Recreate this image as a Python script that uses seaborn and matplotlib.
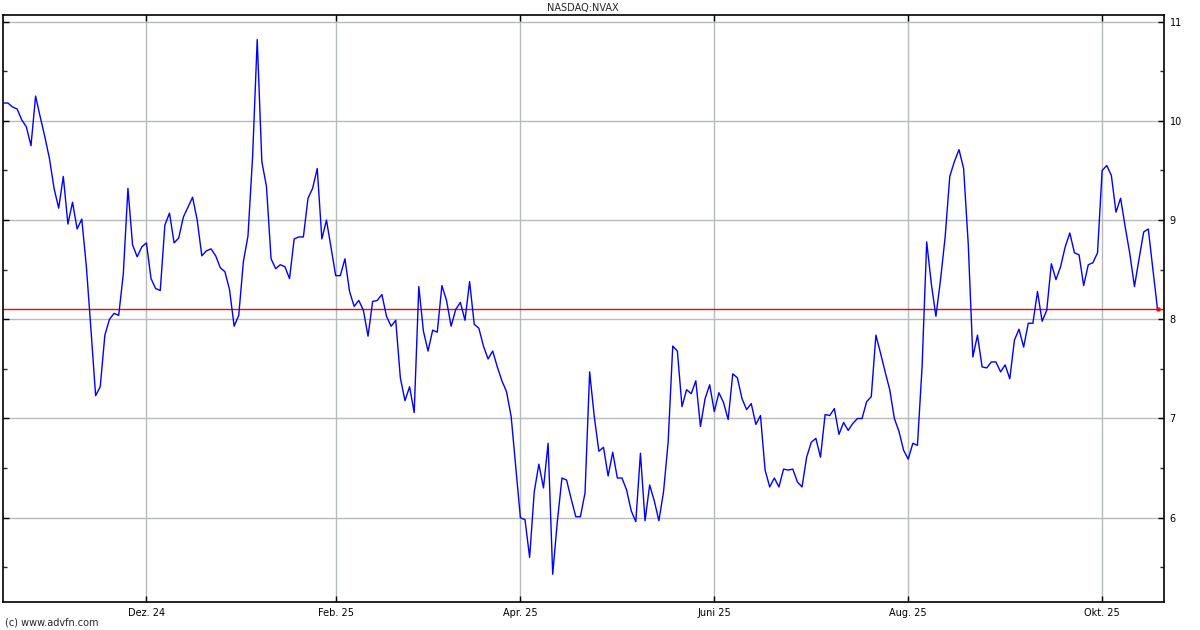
import numpy as np
import pandas as pd
import matplotlib
matplotlib.use("Agg")
import matplotlib.pyplot as plt
import seaborn as sns
from matplotlib.ticker import MultipleLocator, FixedLocator

# ── Data (daily closes, one per trading session, Oct 17 2024 -> Oct 17 2025) ──
prices = [
    10.18, 10.18, 10.14, 10.12, 10.01, 9.94, 9.75, 10.25, 10.04, 9.84,
    9.62, 9.32, 9.12, 9.44, 8.96, 9.18, 8.91, 9.01, 8.53, 7.89,
    7.23, 7.32, 7.84, 8.00, 8.06, 8.04, 8.46, 9.32, 8.75, 8.63,
    8.73, 8.77, 8.41, 8.31, 8.29, 8.95, 9.07, 8.77, 8.82, 9.03,
    9.13, 9.23, 9.00, 8.64, 8.69, 8.71, 8.64, 8.52, 8.48, 8.30,
    7.93, 8.04, 8.58, 8.84, 9.64, 10.82, 9.59, 9.34, 8.61, 8.51,
    8.55, 8.53, 8.41, 8.81, 8.83, 8.83, 9.22, 9.32, 9.52, 8.81,
    9.00, 8.72, 8.44, 8.44, 8.61, 8.28, 8.13, 8.19, 8.09, 7.83,
    8.18, 8.19, 8.25, 8.03, 7.93, 7.99, 7.41, 7.18, 7.32, 7.06,
    8.33, 7.88, 7.68, 7.89, 7.87, 8.34, 8.19, 7.93, 8.10, 8.17,
    7.99, 8.38, 7.95, 7.91, 7.73, 7.60, 7.68, 7.52, 7.38, 7.27,
    7.02, 6.51, 6.00, 5.98, 5.60, 6.26, 6.54, 6.30, 6.75, 5.43,
    5.96, 6.40, 6.38, 6.19, 6.01, 6.01, 6.25, 7.47, 7.02, 6.67,
    6.71, 6.42, 6.66, 6.40, 6.40, 6.28, 6.07, 5.96, 6.65, 5.97,
    6.33, 6.17, 5.97, 6.26, 6.76, 7.73, 7.68, 7.12, 7.29, 7.25,
    7.38, 6.92, 7.20, 7.34, 7.07, 7.26, 7.16, 6.99, 7.45, 7.41,
    7.20, 7.09, 7.15, 6.94, 7.03, 6.48, 6.31, 6.40, 6.31, 6.49,
    6.48, 6.49, 6.36, 6.31, 6.61, 6.76, 6.80, 6.61, 7.04, 7.03,
    7.10, 6.84, 6.96, 6.88, 6.95, 7.00, 7.00, 7.17, 7.22, 7.84,
    7.66, 7.47, 7.29, 7.00, 6.87, 6.68, 6.59, 6.75, 6.73, 7.52,
    8.78, 8.36, 8.03, 8.40, 8.83, 9.44, 9.59, 9.71, 9.52, 8.76,
    7.62, 7.84, 7.52, 7.51, 7.57, 7.57, 7.47, 7.54, 7.40, 7.79,
    7.90, 7.72, 7.96, 7.96, 8.28, 7.98, 8.09, 8.56, 8.40, 8.53,
    8.73, 8.87, 8.67, 8.65, 8.34, 8.55, 8.57, 8.67, 9.50, 9.55,
    9.45, 9.08, 9.22, 8.93, 8.66, 8.33, 8.61, 8.88, 8.91, 8.50,
    8.10,
]

# first session of each labelled month (index into prices)
month_idx = [31, 72, 112, 154, 196, 238]
month_labels = ["Dez. 24", "Feb. 25", "Apr. 25", "Juni 25", "Aug. 25", "Okt. 25"]

y_ticks = [6, 7, 8, 9, 10, 11]
symbol = "NASDAQ:NVAX"

df = pd.DataFrame({"session": np.arange(len(prices)), "close": prices})
last = prices[-1]

# ── Plot ──────────────────────────────────────────────────────────────────────
sns.set_theme(style="white")
plt.rcParams["font.family"] = ["DejaVu Sans"]

fig = plt.figure(figsize=(12, 6.3), dpi=100)
ax = fig.add_axes([0.0025, 0.0444, 0.9675, 0.9316])

grid_col = "#b6bbbb"
for i in month_idx:
    ax.axvline(i, color=grid_col, lw=1, zorder=0)
for v in y_ticks:
    ax.axhline(v, color=grid_col, lw=1, zorder=0)

ax.axhline(last, color="#ff0000", lw=1, zorder=2)
sns.lineplot(data=df, x="session", y="close", color="#0000ff", lw=1, ax=ax, zorder=3)
ax.scatter([df["session"].iloc[-1]], [last], color="#ff0000", s=10, zorder=4, linewidths=0)

ax.set_xlim(-0.06, 251.4)
ax.set_ylim(5.15, 11.066)

ax.yaxis.tick_right()
ax.yaxis.set_major_locator(FixedLocator(y_ticks))
ax.yaxis.set_minor_locator(MultipleLocator(0.5))
ax.set_yticklabels([str(v) for v in y_ticks])
ax.xaxis.set_major_locator(FixedLocator(month_idx))
ax.set_xticklabels(month_labels)

ax.tick_params(axis="y", which="major", direction="in", length=4, width=1,
               labelsize=7, pad=4, left=True, right=True, colors="black")
ax.tick_params(axis="y", which="minor", direction="in", length=3, width=1,
               left=True, right=True)
ax.tick_params(axis="x", which="major", direction="in", length=4, width=1,
               labelsize=7, pad=4, top=True, bottom=True, colors="black")

for s in ax.spines.values():
    s.set_color("black")
    s.set_linewidth(1.2)

ax.set_xlabel("")
ax.set_ylabel("")

fig.text(0.486, 0.987, symbol, ha="center", va="center", fontsize=7)
fig.text(0.004, 0.012, "(c) www.advfn.com", ha="left", va="center", fontsize=7)

fig.savefig("out.png", dpi=100)
